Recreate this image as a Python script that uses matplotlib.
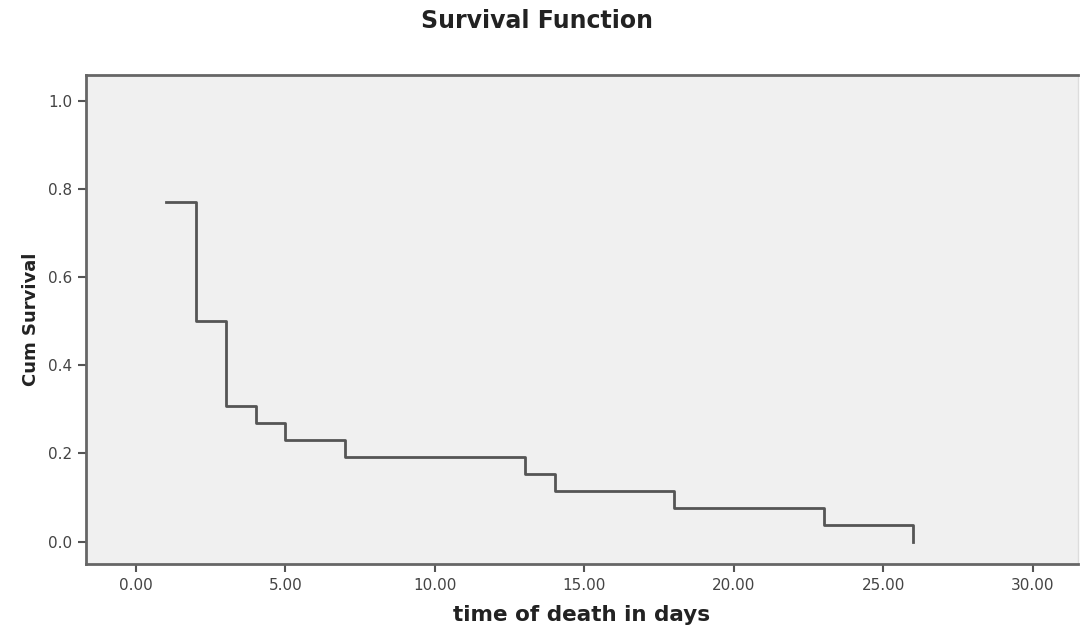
import matplotlib
matplotlib.use('Agg')
import matplotlib.pyplot as plt

# Kaplan-Meier steps (n = 26)
times = [1, 2, 3, 4, 5, 7, 13, 14, 18, 23, 26]
surv = [0.769, 0.500, 0.308, 0.269, 0.231, 0.192, 0.154, 0.115, 0.077, 0.038, 0.0]
xticks = [0, 5, 10, 15, 20, 25, 30]
yticks = [0.0, 0.2, 0.4, 0.6, 0.8, 1.0]

fig = plt.figure(figsize=(10.81, 6.33), dpi=100)
ax = fig.add_axes([0.0796, 0.109, 0.9174, 0.7725])
ax.set_facecolor('#f0f0f0')

# step line: horizontal from each time to the next, drop at next time
xs = [times[0]]
ys = [surv[0]]
for i in range(1, len(times)):
    xs += [times[i], times[i]]
    ys += [surv[i - 1], surv[i]]
ax.plot(xs, ys, color='#555555', lw=2)

ax.set_xlim(-1.67, 31.5)
ax.set_ylim(-0.051, 1.058)
ax.set_xticks(xticks)
ax.set_xticklabels([f'{v:.2f}' for v in xticks])
ax.set_yticks(yticks)
ax.set_yticklabels([f'{v:.1f}' for v in yticks])
ax.tick_params(direction='out', length=6, width=1.5, color='#555555',
               labelcolor='#444444', labelsize=11, pad=4)
for s in ax.spines.values():
    s.set_color('#666666')
    s.set_linewidth(2)
ax.spines['right'].set_color('#dddddd')
ax.spines['right'].set_linewidth(1)

ax.set_xlabel('time of death in days', fontsize=15.5, fontweight='bold',
              color='#222222', labelpad=9)
ax.set_ylabel('Cum Survival', fontsize=13, fontweight='bold',
              color='#222222', labelpad=6)
fig.suptitle('Survival Function', x=0.497, y=0.985, fontsize=17,
             fontweight='bold', color='#222222')

fig.savefig('out.png', dpi=100)
